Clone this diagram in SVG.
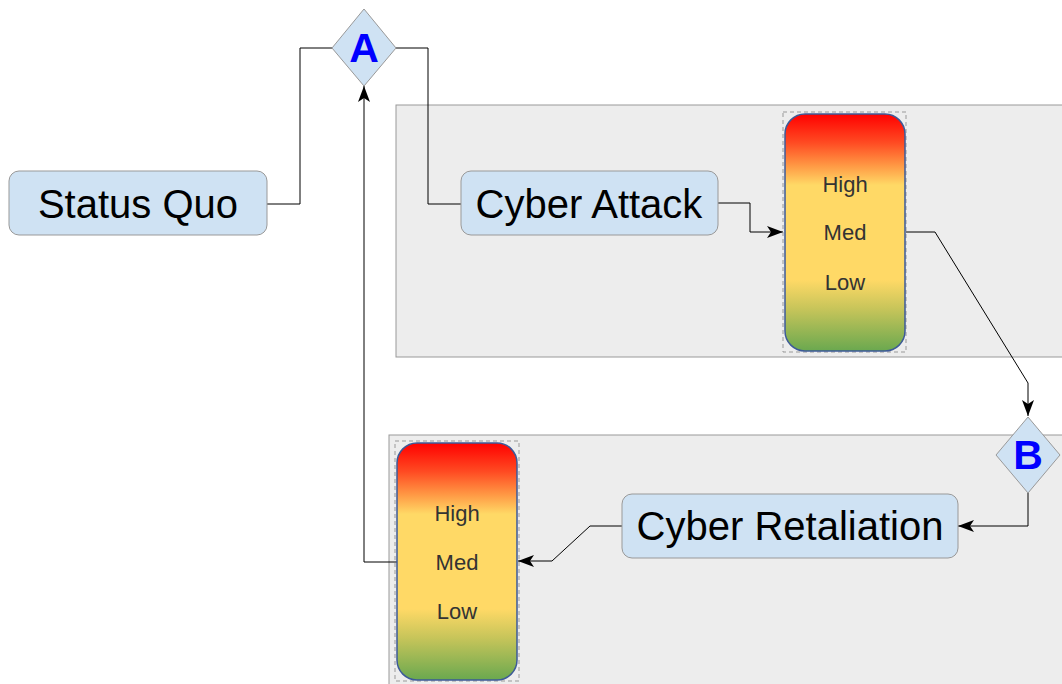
<svg xmlns="http://www.w3.org/2000/svg" width="1062" height="684" viewBox="0 0 1062 684">
<style>
.bg{fill:#ededed;stroke:#999;stroke-width:1}
.box{fill:#cfe2f3;stroke:#999;stroke-width:1}
.boxt{font-family:"Liberation Sans",Arial,sans-serif;font-size:40px;fill:#000;text-anchor:middle;dominant-baseline:central}
.dia{fill:#cfe2f3;stroke:#999;stroke-width:1}
.diat{font-family:"Liberation Sans",Arial,sans-serif;font-size:41px;font-weight:bold;fill:#0000ff;text-anchor:middle;dominant-baseline:central}
.gauge{fill:url(#grad);stroke:#3d5a98;stroke-width:1.5}
.gframe{fill:none;stroke:#999;stroke-width:1;stroke-dasharray:4 3}
.gt{font-family:"Liberation Sans",Arial,sans-serif;font-size:22px;fill:#333;text-anchor:middle;dominant-baseline:central}
.conn{fill:none;stroke:#000;stroke-width:1}
</style>
<defs>
<linearGradient id="grad" x1="0" y1="0" x2="0" y2="1">
<stop offset="0" stop-color="#ff0000"/>
<stop offset="0.12" stop-color="#ff4a22"/>
<stop offset="0.22" stop-color="#ff9a45"/>
<stop offset="0.3" stop-color="#ffd966"/>
<stop offset="0.7" stop-color="#ffd966"/>
<stop offset="0.82" stop-color="#c8c55a"/>
<stop offset="1" stop-color="#6aa84f"/>
</linearGradient>
<marker id="arr" markerWidth="17" markerHeight="12" refX="16" refY="6" orient="auto" markerUnits="userSpaceOnUse">
<path d="M0,0 L16,6 L0,12 L4,6 z" fill="#000"/>
</marker>
</defs>
<rect class="bg" x="396" y="105" width="680" height="252"/>
<rect class="bg" x="389" y="435" width="690" height="260"/>
<g id="connectors">
<path class="conn" d="M267,204 H300 V48 H332"/>
<path class="conn" d="M396,48 H428 V204 H461"/>
<path class="conn" d="M718,203 H750 V232 H783" marker-end="url(#arr)"/>
<path class="conn" d="M906,232 H935 L1028,383 V416" marker-end="url(#arr)"/>
<path class="conn" d="M1028,493 V526 H958" marker-end="url(#arr)"/>
<path class="conn" d="M622,526 H590 L552,561 H518" marker-end="url(#arr)"/>
<path class="conn" d="M397,562 H364 V86" marker-end="url(#arr)"/>
</g>
<g id="statusquo">
<rect class="box" x="9" y="171" width="258" height="64" rx="10"/>
<text class="boxt" x="138" y="204">Status Quo</text>
</g>
<g id="A">
<polygon class="dia" points="364,9 396,48 364,86 332,48"/>
<text class="diat" x="364" y="48">A</text>
</g>
<g id="cyberattack">
<rect class="box" x="461" y="171" width="257" height="64" rx="10"/>
<text class="boxt" x="589" y="204">Cyber Attack</text>
</g>
<g id="gauge1">
<rect class="gframe" x="783" y="112" width="123" height="240"/>
<rect class="gauge" x="785" y="114" width="120" height="237" rx="20"/>
<text class="gt" x="845" y="184">High</text>
<text class="gt" x="845" y="232">Med</text>
<text class="gt" x="845" y="282">Low</text>
</g>
<g id="B">
<polygon class="dia" points="1028,417 1060,455 1028,493 996,455"/>
<text class="diat" x="1028" y="455">B</text>
</g>
<g id="cyberretaliation">
<rect class="box" x="622" y="494" width="336" height="64" rx="10"/>
<text class="boxt" x="790" y="526">Cyber Retaliation</text>
</g>
<g id="gauge2">
<rect class="gframe" x="395" y="441" width="124" height="240"/>
<rect class="gauge" x="397" y="443" width="120" height="237" rx="20"/>
<text class="gt" x="457" y="513">High</text>
<text class="gt" x="457" y="562">Med</text>
<text class="gt" x="457" y="611">Low</text>
</g>
</svg>
